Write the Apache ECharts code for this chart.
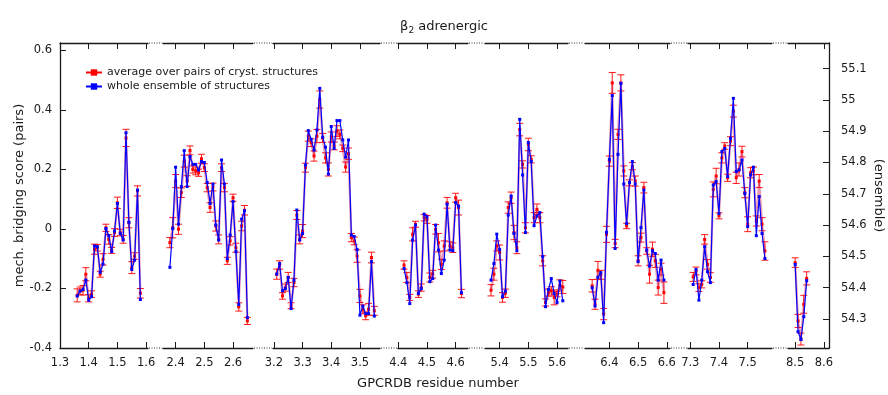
<!DOCTYPE html>
<html>
<head>
<meta charset="utf-8">
<script src="https://cdn.jsdelivr.net/npm/echarts@6/dist/echarts.min.js"></script>
<style>
html, body { margin: 0; padding: 0; background: #fff; }
#chart { width: 888px; height: 395px; }
</style>
</head>
<body>
<div id="chart"></div>
<script>
// GPCRDB number of the first residue shown for each helix (residues are consecutive, step 0.01)
var firstResidue = [1.36, 2.38, 3.21, 4.42, 5.37, 6.34, 7.31, 8.50];

// average over pairs of cryst. structures (left axis)
var pairScore = [
    [-0.223,-0.208,-0.206,-0.152,-0.233,-0.219,-0.068,-0.063,-0.152,-0.102,0.004,-0.035,-0.072,-0.012,0.088,-0.012,-0.035,0.306,0.021,-0.130,-0.091,0.128,-0.216],
    [-0.046,0.004,0.161,-0.001,0.122,0.228,0.161,0.264,0.200,0.195,0.189,0.236,0.206,0.139,0.072,0.141,0.010,-0.035,0.206,0.139,-0.107,-0.040,0.105,-0.063,-0.262,0.010,0.063,-0.309],
    [-0.152,-0.121,-0.225,-0.197,-0.163,-0.258,-0.180,0.047,-0.035,-0.007,0.206,0.312,0.290,0.245,0.312,0.435,0.306,0.239,0.200,0.309,0.279,0.329,0.318,0.271,0.208,0.253,-0.029,-0.040,-0.091,-0.225,-0.270,-0.292,-0.270,-0.096,-0.275],
    [-0.121,-0.163,-0.230,-0.018,0.016,-0.219,-0.197,0.038,0.032,-0.163,-0.152,-0.001,-0.046,-0.119,-0.057,0.088,-0.057,-0.063,0.105,0.072,-0.217],
    [-0.206,-0.152,-0.057,-0.079,-0.230,-0.216,0.072,0.105,-0.012,-0.063,0.334,0.217,0.004,0.284,0.234,0.038,0.066,0.038,-0.107,-0.247,-0.214,-0.208,-0.230,-0.219,-0.188,-0.195],
    [-0.191,-0.253,-0.139,-0.154,-0.286,-0.018,0.228,0.491,-0.049,0.318,0.491,0.195,0.010,0.155,0.211,0.161,-0.107,-0.029,0.139,-0.074,-0.152,-0.068,-0.107,-0.197,-0.135,-0.214],
    [-0.161,-0.141,-0.197,-0.186,-0.035,-0.119,-0.163,0.133,0.178,0.044,0.239,0.279,0.172,0.295,0.396,0.172,0.200,0.260,0.122,0.016,0.189,0.195,0.027,0.161,0.016,-0.074],
    [-0.113,-0.309,-0.370,-0.253,-0.166]
];

// half width of the error bars of the pair average
var pairErr = [
    [0.022,0.013,0.016,0.022,0.012,0.011,0.017,0.011,0.010,0.019,0.012,0.016,0.010,0.013,0.019,0.011,0.013,0.029,0.017,0.020,0.011,0.017,0.016],
    [0.017,0.034,0.022,0.017,0.016,0.020,0.018,0.015,0.012,0.013,0.012,0.015,0.013,0.014,0.016,0.013,0.017,0.015,0.013,0.014,0.012,0.014,0.012,0.015,0.014,0.016,0.016,0.012],
    [0.017,0.014,0.011,0.012,0.017,0.010,0.014,0.015,0.015,0.022,0.015,0.017,0.013,0.017,0.022,0.029,0.015,0.017,0.022,0.017,0.013,0.018,0.015,0.011,0.017,0.019,0.014,0.013,0.021,0.022,0.015,0.013,0.020,0.018,0.015],
    [0.014,0.017,0.010,0.022,0.010,0.011,0.012,0.011,0.013,0.015,0.013,0.016,0.031,0.017,0.017,0.018,0.014,0.016,0.015,0.025,0.014],
    [0.019,0.020,0.017,0.025,0.016,0.014,0.019,0.019,0.024,0.020,0.021,0.012,0.017,0.021,0.012,0.017,0.018,0.017,0.017,0.012,0.012,0.014,0.025,0.009,0.017,0.022],
    [0.021,0.017,0.030,0.015,0.019,0.027,0.017,0.035,0.014,0.017,0.027,0.017,0.009,0.010,0.012,0.017,0.017,0.015,0.018,0.011,0.030,0.024,0.022,0.025,0.020,0.036],
    [0.015,0.013,0.013,0.012,0.016,0.016,0.016,0.025,0.026,0.010,0.017,0.011,0.012,0.015,0.020,0.019,0.022,0.018,0.017,0.025,0.017,0.013,0.017,0.022,0.022,0.031],
    [0.016,0.022,0.020,0.030,0.022]
];

// whole ensemble of structures (right axis)
var ensembleScore = [
    [54.373,54.389,54.394,54.424,54.360,54.371,54.533,54.531,54.449,54.475,54.589,54.566,54.515,54.581,54.669,54.573,54.552,54.895,54.609,54.458,54.488,54.712,54.362],
    [54.465,54.589,54.785,54.603,54.723,54.838,54.723,54.819,54.794,54.794,54.776,54.803,54.800,54.736,54.669,54.731,54.600,54.552,54.808,54.731,54.493,54.568,54.675,54.515,54.346,54.619,54.646,54.304],
    [54.443,54.477,54.390,54.397,54.433,54.333,54.424,54.648,54.552,54.573,54.792,54.902,54.874,54.840,54.904,55.037,54.881,54.849,54.763,54.915,54.845,54.934,54.934,54.872,54.817,54.872,54.568,54.563,54.522,54.312,54.341,54.317,54.317,54.483,54.309],
    [54.461,54.416,54.349,54.552,54.600,54.381,54.397,54.635,54.627,54.419,54.429,54.600,54.520,54.445,54.488,54.667,54.520,54.518,54.672,54.661,54.384],
    [54.424,54.477,54.571,54.522,54.371,54.389,54.632,54.693,54.573,54.518,54.938,54.760,54.576,54.864,54.803,54.598,54.629,54.640,54.499,54.339,54.394,54.429,54.381,54.352,54.421,54.358],
    [54.400,54.341,54.433,54.448,54.288,54.577,54.810,55.014,54.525,54.826,55.053,54.731,54.605,54.736,54.803,54.731,54.483,54.592,54.712,54.520,54.469,54.518,54.509,54.424,54.488,54.424],
    [54.410,54.458,54.360,54.424,54.531,54.451,54.416,54.728,54.739,54.637,54.835,54.845,54.755,54.877,55.005,54.771,54.776,54.808,54.701,54.595,54.760,54.785,54.566,54.691,54.573,54.493],
    [54.474,54.259,54.234,54.307,54.422]
];

// tick labels
var xTicks = [[1.3,1.4,1.5,1.6],[2.4,2.5,2.6],[3.2,3.3,3.4,3.5],[4.4,4.5,4.6],[5.4,5.5,5.6],[6.4,6.5,6.6],[7.3,7.4,7.5],[8.5,8.6]];
var pairTicks = [-0.4,-0.2,0,0.2,0.4,0.6];
var ensembleTicks = [54.3,54.4,54.5,54.6,54.7,54.8,54.9,55,55.1];

// layout of the broken x axis (pixels) and the start value of each piece
var segLeft  = [60, 163, 273, 398, 485, 585, 688, 788];
var segRight = [148, 253, 380, 468, 568, 670, 772, 829];
var segMin   = [1.30, 2.356, 3.197, 4.399, 5.349, 6.315, 7.292, 8.475];
var pxPerUnit = 287;
var plotTop = 43, plotBottom = 348;

var FONT = 'DejaVu Sans';
var TXT = '#1a1a1a';
var NAME_PAIRS = 'average over pairs of cryst. structures';
var NAME_ENS = 'whole ensemble of structures';

function residueAt(i, j) {
    return +(firstResidue[i] + j * 0.01).toFixed(2);
}

function renderErrorBar(params, api) {
    var x = api.value(0);
    var top = api.coord([x, api.value(2)]);
    var bot = api.coord([x, api.value(1)]);
    var half = 3.5;
    var st = {stroke: 'rgba(255,0,0,0.9)', lineWidth: 1};
    return {
        type: 'group',
        children: [
            {type: 'line', shape: {x1: top[0], y1: top[1], x2: bot[0], y2: bot[1]}, style: st},
            {type: 'line', shape: {x1: top[0] - half, y1: top[1], x2: top[0] + half, y2: top[1]}, style: st},
            {type: 'line', shape: {x1: bot[0] - half, y1: bot[1], x2: bot[0] + half, y2: bot[1]}, style: st}
        ]
    };
}

var grids = [], xAxes = [], yAxes = [], series = [], graphics = [];
var axisLine = {show: true, onZero: false, lineStyle: {color: TXT, width: 1.3}};

for (var i = 0; i < segLeft.length; i++) {
    var w = segRight[i] - segLeft[i];
    var max = segMin[i] + w / pxPerUnit;
    grids.push({left: segLeft[i], top: plotTop, width: w, height: plotBottom - plotTop, outerBoundsMode: 'none'});

    // bottom axis with labels, top axis with ticks only
    xAxes.push({
        type: 'value', gridIndex: i, position: 'bottom', min: segMin[i], max: max,
        axisLine: axisLine,
        axisTick: {show: true, inside: true, length: 6, customValues: xTicks[i], lineStyle: {color: TXT}},
        axisLabel: {customValues: xTicks[i], color: TXT, fontFamily: FONT, fontSize: 11.5, margin: 9},
        splitLine: {show: false}
    });
    xAxes.push({
        type: 'value', gridIndex: i, position: 'top', min: segMin[i], max: max,
        axisLine: axisLine,
        axisTick: {show: true, inside: true, length: 6, customValues: xTicks[i], lineStyle: {color: TXT}},
        axisLabel: {show: false},
        splitLine: {show: false}
    });

    yAxes.push({
        type: 'value', gridIndex: i, position: 'left', min: -0.4, max: 0.625,
        show: i === 0,
        name: 'mech. bridging score (pairs)', nameLocation: 'middle', nameGap: 34,
        nameTextStyle: {color: TXT, fontFamily: FONT, fontSize: 13},
        axisLine: axisLine,
        axisTick: {show: true, inside: true, length: 6, customValues: pairTicks, lineStyle: {color: TXT}},
        axisLabel: {customValues: pairTicks, color: TXT, fontFamily: FONT, fontSize: 11.5, margin: 8},
        splitLine: {show: false}
    });
    yAxes.push({
        type: 'value', gridIndex: i, position: 'right', min: 54.207, max: 55.182,
        show: i === segLeft.length - 1,
        name: '(ensemble)', nameLocation: 'middle', nameGap: 43, nameRotate: -90,
        nameTextStyle: {color: TXT, fontFamily: FONT, fontSize: 13},
        axisLine: axisLine,
        axisTick: {show: true, inside: true, length: 6, customValues: ensembleTicks, lineStyle: {color: TXT}},
        axisLabel: {customValues: ensembleTicks, color: TXT, fontFamily: FONT, fontSize: 11.5, margin: 12},
        splitLine: {show: false}
    });

    var pairs = [], errs = [], ens = [];
    for (var j = 0; j < pairScore[i].length; j++) {
        var r = residueAt(i, j);
        pairs.push([r, pairScore[i][j]]);
        errs.push([r, pairScore[i][j] - pairErr[i][j], pairScore[i][j] + pairErr[i][j]]);
        ens.push([r, ensembleScore[i][j]]);
    }

    series.push({
        type: 'custom', name: 'err', xAxisIndex: 2 * i, yAxisIndex: 2 * i,
        data: errs, renderItem: renderErrorBar, encode: {x: 0, y: [1, 2]},
        silent: true, z: 2
    });
    series.push({
        name: NAME_PAIRS, type: 'line', xAxisIndex: 2 * i, yAxisIndex: 2 * i,
        data: pairs, symbol: 'rect', symbolSize: 3,
        itemStyle: {color: '#ff0000'},
        lineStyle: {color: 'rgba(200,0,60,0.4)', width: 2.2},
        silent: true, z: 3
    });
    series.push({
        name: NAME_ENS, type: 'line', xAxisIndex: 2 * i, yAxisIndex: 2 * i + 1,
        data: ens, symbol: 'rect', symbolSize: 3,
        itemStyle: {color: '#0000ff'},
        lineStyle: {color: '#0000ff', width: 1.2},
        silent: true, z: 4
    });

    // dotted frame over the gap to the next piece
    if (i < segLeft.length - 1) {
        [plotTop, plotBottom].forEach(function (y) {
            graphics.push({
                type: 'line', silent: true,
                shape: {x1: segRight[i] + 1, y1: y, x2: segLeft[i + 1] - 1, y2: y},
                style: {stroke: '#777', lineWidth: 1.3, lineDash: [1, 1.5]}
            });
        });
    }
}

graphics.push({
    type: 'text', x: 438, y: 384, silent: true,
    style: {
        text: 'GPCRDB residue number', fill: TXT, font: '13px "DejaVu Sans"',
        align: 'center', verticalAlign: 'middle', textAlign: 'center', textVerticalAlign: 'middle'
    }
});

var option = {
    animation: false,
    backgroundColor: '#fff',
    title: {
        text: '{b|β}{s|2}{b| adrenergic}',
        left: 'center', top: 14,
        textStyle: {
            fontWeight: 'normal',
            rich: {
                b: {fontFamily: FONT, fontSize: 13, fontWeight: 'normal', color: TXT},
                s: {fontFamily: FONT, fontSize: 9, fontWeight: 'normal', color: TXT, padding: [7, 0, 0, 0]}
            }
        }
    },
    legend: {
        data: [
            {name: NAME_PAIRS, lineStyle: {color: '#ff0000', opacity: 1}},
            {name: NAME_ENS}
        ],
        orient: 'vertical', left: 80, top: 62,
        itemWidth: 16, itemHeight: 8, itemGap: 3,
        selectedMode: false,
        textStyle: {fontFamily: FONT, fontSize: 11, color: TXT}
    },
    grid: grids,
    xAxis: xAxes,
    yAxis: yAxes,
    graphic: graphics,
    series: series
};

var chart = echarts.init(document.getElementById('chart'));
chart.setOption(option);
</script>
</body>
</html>
